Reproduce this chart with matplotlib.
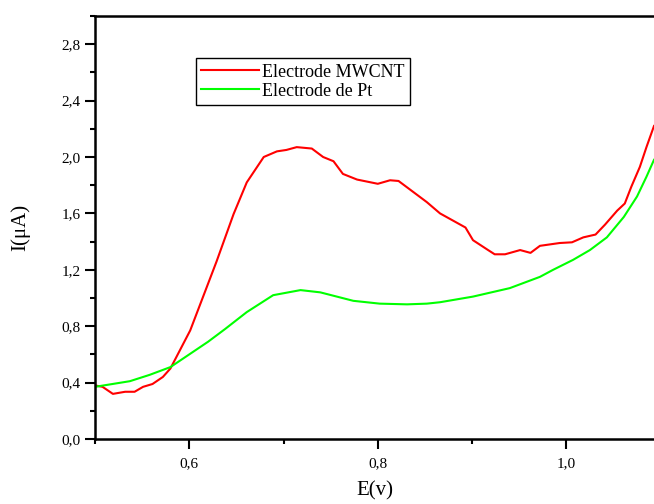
import matplotlib
matplotlib.use("Agg")
import matplotlib.pyplot as plt
from matplotlib.ticker import MultipleLocator, FuncFormatter

plt.rcParams["font.family"] = ["Liberation Serif", "DejaVu Serif"]

# Electrode MWCNT
e_mwcnt = [0.500, 0.508, 0.519, 0.532, 0.542, 0.551, 0.561, 0.572, 0.580, 0.601,
           0.629, 0.647, 0.661, 0.679, 0.693, 0.703, 0.714, 0.730, 0.742, 0.753,
           0.763, 0.778, 0.800, 0.813, 0.822, 0.838, 0.852, 0.866, 0.893,
           0.901, 0.917, 0.924, 0.935, 0.951, 0.962, 0.972, 0.993, 1.006, 1.018,
           1.031, 1.041, 1.054, 1.062, 1.069, 1.078, 1.085, 1.093]
i_mwcnt = [0.38, 0.37, 0.32, 0.335, 0.335, 0.37, 0.39, 0.44, 0.50, 0.77,
           1.26, 1.595, 1.82, 2.00, 2.04, 2.05, 2.07, 2.06, 2.00, 1.97,
           1.88, 1.84, 1.81, 1.835, 1.83, 1.75, 1.68, 1.60, 1.50,
           1.41, 1.34, 1.31, 1.31, 1.34, 1.32, 1.37, 1.39, 1.395, 1.43,
           1.45, 1.52, 1.62, 1.67, 1.79, 1.93, 2.07, 2.22]

# Electrode de Pt
e_pt = [0.500, 0.537, 0.558, 0.580, 0.600, 0.620, 0.638, 0.661, 0.689, 0.718,
        0.739, 0.774, 0.802, 0.831, 0.852, 0.866, 0.901, 0.940, 0.972, 0.986,
        1.007, 1.025, 1.043, 1.061, 1.075, 1.085, 1.093]
i_pt = [0.37, 0.41, 0.455, 0.51, 0.60, 0.69, 0.78, 0.90, 1.02, 1.056,
        1.04, 0.98, 0.96, 0.955, 0.96, 0.97, 1.01, 1.07, 1.15, 1.20,
        1.27, 1.34, 1.43, 1.575, 1.72, 1.86, 1.98]

fig = plt.figure(figsize=(6.54, 5.04), dpi=100)
ax = fig.add_axes([95 / 654, 1 - 439 / 504, 1 - 95 / 654, 423 / 504])

ax.plot(e_mwcnt, i_mwcnt, color="#ff0000", lw=1.5, label="Electrode MWCNT")
ax.plot(e_pt, i_pt, color="#00ff00", lw=1.5, label="Electrode de Pt")

ax.set_xlim(0.5, 1.093)
ax.set_ylim(0, 3.0)
ax.xaxis.set_major_locator(MultipleLocator(0.2))
ax.xaxis.set_minor_locator(MultipleLocator(0.1))
ax.yaxis.set_major_locator(MultipleLocator(0.4))
ax.yaxis.set_minor_locator(MultipleLocator(0.2))
comma = FuncFormatter(lambda v, p: f"{v:.1f}".replace(".", ","))
ax.xaxis.set_major_formatter(comma)
ax.yaxis.set_major_formatter(comma)
ax.set_xticks([0.6, 0.8, 1.0])

ax.tick_params(which="major", direction="out", length=7, width=1.5, labelsize=11)
ax.tick_params(which="minor", direction="out", length=3.5, width=1.5)
ax.tick_params(axis="x", pad=6)
for s in ["left", "bottom", "top"]:
    ax.spines[s].set_linewidth(1.8)
ax.spines["right"].set_visible(False)

ax.set_xlabel("E(v)", fontsize=15, labelpad=8)
ax.set_ylabel("I(\u03bcA)", fontsize=15, labelpad=22)

leg = ax.legend(loc="upper left", bbox_to_anchor=(0.18, 0.90), borderaxespad=0,
                fontsize=13, frameon=True, fancybox=False, framealpha=1,
                edgecolor="black", handlelength=3.2, handletextpad=0.2,
                labelspacing=0.1, borderpad=0.3)
leg.get_frame().set_linewidth(1.0)

fig.savefig("out.png", dpi=100)
